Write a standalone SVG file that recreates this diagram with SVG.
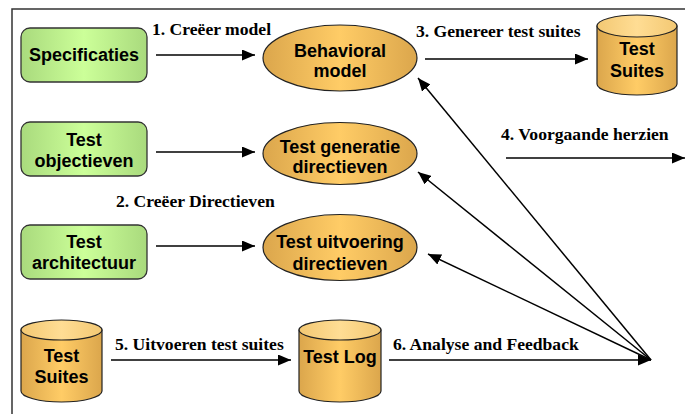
<svg xmlns="http://www.w3.org/2000/svg" width="685" height="414" viewBox="0 0 685 414">
  <defs>
    <linearGradient id="gGreen" x1="0" y1="0" x2="1" y2="0">
      <stop offset="0" stop-color="#a9da7d"/>
      <stop offset="0.5" stop-color="#ccff99"/>
      <stop offset="1" stop-color="#a9da7d"/>
    </linearGradient>
    <linearGradient id="gOrange" x1="0" y1="0" x2="1" y2="0">
      <stop offset="0" stop-color="#dba64c"/>
      <stop offset="0.5" stop-color="#ffcc66"/>
      <stop offset="1" stop-color="#dba64c"/>
    </linearGradient>
    <linearGradient id="gTop" x1="0" y1="0" x2="1" y2="0">
      <stop offset="0" stop-color="#f3c873"/>
      <stop offset="0.5" stop-color="#ffdd94"/>
      <stop offset="1" stop-color="#f3c873"/>
    </linearGradient>
    <marker id="arrow" markerUnits="userSpaceOnUse" markerWidth="13" markerHeight="11" refX="13" refY="5.5" orient="auto">
      <path d="M0,0 L13,5.5 L0,11 z" fill="#000"/>
    </marker>
  </defs>
  <style>
    .box { fill: url(#gGreen); stroke: #333; stroke-width: 1.3; }
    .ell { fill: url(#gOrange); stroke: #222; stroke-width: 1.2; }
    .cyl { fill: url(#gOrange); stroke: #222; stroke-width: 1.2; }
    .cyltop { fill: url(#gTop); stroke: #222; stroke-width: 1.2; }
    .nt { font-family: "Liberation Sans", Arial, sans-serif; font-weight: bold; font-size: 18px; fill: #000; text-anchor: middle; }
    .lbl { font-family: "Liberation Serif", "Times New Roman", serif; font-weight: bold; font-size: 17.6px; fill: #000; }
    .con { stroke: #000; stroke-width: 1.5; fill: none; marker-end: url(#arrow); }
    .frame { stroke: #333; stroke-width: 1.5; fill: none; }
  </style>

  <!-- page frame -->
  <path class="frame" d="M12,414 L12,9 L685,9"/>

  <!-- input documents -->
  <g id="specificaties">
    <rect class="box" x="21" y="28" width="126" height="54" rx="9"/>
    <text class="nt" x="84" y="61">Specificaties</text>
  </g>
  <g id="test-objectieven">
    <rect class="box" x="21" y="122" width="126" height="54" rx="9"/>
    <text class="nt" x="84" y="146">Test</text>
    <text class="nt" x="84" y="167">objectieven</text>
  </g>
  <g id="test-architectuur">
    <rect class="box" x="21" y="225" width="126" height="54" rx="9"/>
    <text class="nt" x="84" y="248">Test</text>
    <text class="nt" x="84" y="269">architectuur</text>
  </g>

  <!-- models -->
  <g id="behavioral-model">
    <ellipse class="ell" cx="340" cy="58" rx="77" ry="33"/>
    <text class="nt" x="340" y="57">Behavioral</text>
    <text class="nt" x="340" y="77">model</text>
  </g>
  <g id="test-generatie-directieven">
    <ellipse class="ell" cx="340" cy="153.5" rx="77" ry="31"/>
    <text class="nt" x="340" y="153">Test generatie</text>
    <text class="nt" x="340" y="173">directieven</text>
  </g>
  <g id="test-uitvoering-directieven">
    <ellipse class="ell" cx="340" cy="247.5" rx="77" ry="33"/>
    <text class="nt" x="340" y="248">Test uitvoering</text>
    <text class="nt" x="340" y="270">directieven</text>
  </g>

  <!-- stores -->
  <g id="test-suites-top">
    <path class="cyl" d="M597,26 L597,84 A40,11 0 0 0 677,84 L677,26 Z"/>
    <ellipse class="cyltop" cx="637" cy="26" rx="40" ry="11"/>
    <text class="nt" x="637" y="55">Test</text>
    <text class="nt" x="637" y="77">Suites</text>
  </g>
  <g id="test-suites-bottom">
    <path class="cyl" d="M21,330 L21,391 A40.5,11 0 0 0 102,391 L102,330 Z"/>
    <ellipse class="cyltop" cx="61.5" cy="330" rx="40.5" ry="10"/>
    <text class="nt" x="61.5" y="362">Test</text>
    <text class="nt" x="61.5" y="383">Suites</text>
  </g>
  <g id="test-log">
    <path class="cyl" d="M299,330 L299,391 A41,11 0 0 0 381,391 L381,330 Z"/>
    <ellipse class="cyltop" cx="340" cy="330" rx="41" ry="10"/>
    <text class="nt" x="340" y="363">Test Log</text>
  </g>

  <!-- connectors -->
  <g id="connectors">
    <line class="con" x1="156" y1="55" x2="255" y2="55"/>
    <line class="con" x1="156" y1="152" x2="255" y2="152"/>
    <line class="con" x1="156" y1="246" x2="255" y2="246"/>
    <line class="con" x1="425" y1="59" x2="588" y2="59"/>
    <line class="con" x1="506" y1="158" x2="685" y2="158"/>
    <line class="con" x1="111" y1="360" x2="291" y2="360"/>
    <line class="con" x1="389" y1="360" x2="651" y2="360"/>
    <line class="con" x1="651" y1="360" x2="418" y2="78"/>
    <line class="con" x1="651" y1="360" x2="418" y2="172"/>
    <line class="con" x1="651" y1="360" x2="428" y2="254"/>
  </g>

  <!-- step labels -->
  <g id="labels">
    <text class="lbl" x="152" y="35">1. Creëer model</text>
    <text class="lbl" x="116" y="207">2. Creëer Directieven</text>
    <text class="lbl" x="416" y="37">3. Genereer test suites</text>
    <text class="lbl" x="501" y="140">4. Voorgaande herzien</text>
    <text class="lbl" x="115" y="350">5. Uitvoeren test suites</text>
    <text class="lbl" x="393" y="350">6. Analyse and Feedback</text>
  </g>
</svg>
